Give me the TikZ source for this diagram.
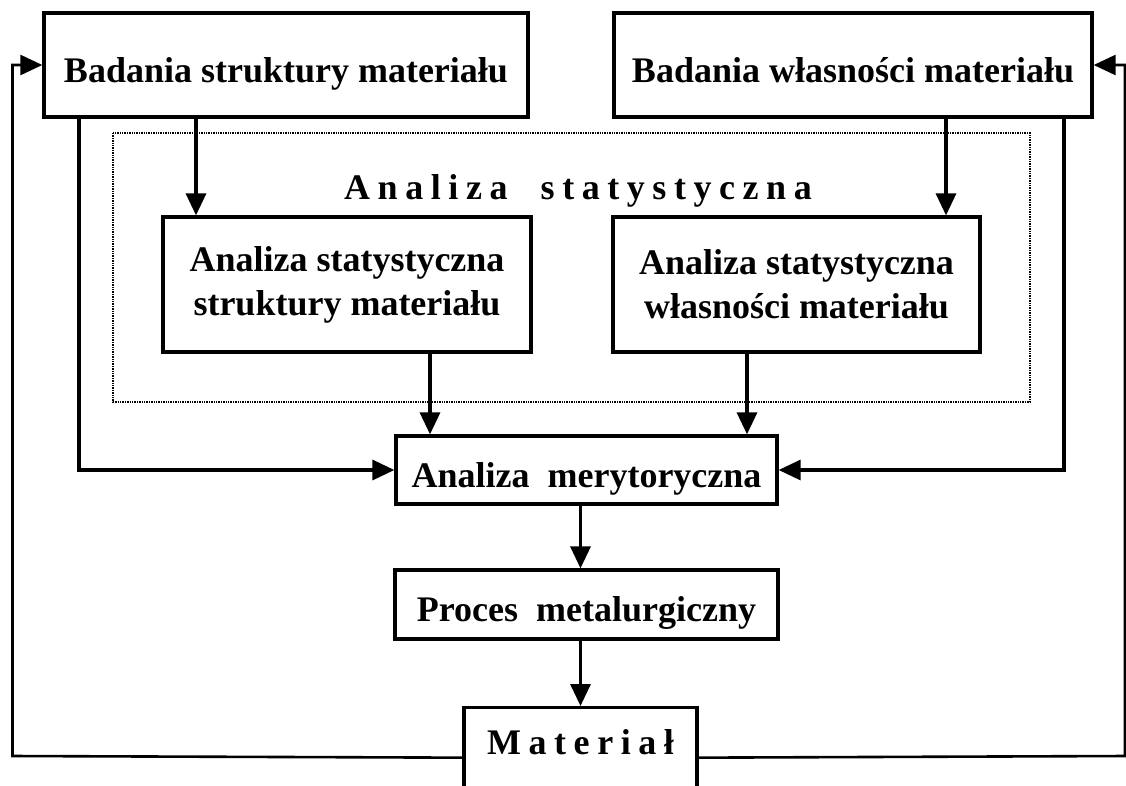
\documentclass[tikz,border=0pt]{standalone}
\usepackage{fontspec}
\setmainfont{Liberation Serif}
\newfontfamily\spacedfont[LetterSpace=21]{Liberation Serif}
\usetikzlibrary{calc, arrows.meta}
\tikzset{>={Triangle[length=22pt,width=20pt]}}
\tikzset{
  box/.style={draw, line width=3.3pt, inner sep=0pt, align=center,
    font=\fontsize{36}{44}\selectfont\bfseries},
  oneline/.style={text height=34pt, text depth=0pt},
  spaced/.style={font=\spacedfont\bfseries\fontsize{36}{44}\selectfont},
  link/.style={line width=3.3pt, ->},
  feedback/.style={line width=2.6pt, ->},
  frame/.style={densely dotted, line width=1.4pt}
}

\begin{document}
\begin{tikzpicture}[x=1pt, y=-1pt]
\useasboundingbox (0,0) rectangle (1126,785);
\clip (0,0) rectangle (1126,785);
\node[box, oneline, minimum width=484, minimum height=104] (bs) at (286,65) {Badania struktury materiału};
\node[box, oneline, minimum width=478, minimum height=104] (bw) at (853,65) {Badania własności materiału};
\draw[frame] (113,133) rectangle (1030,402);
\node[spaced, anchor=base] (title) at (578,199) {Analiza\ \ statystyczna};
\node[box, minimum width=368, minimum height=135] (ass) at (347,284.5) {Analiza statystyczna\\struktury materiału};
\node[box, minimum width=367, minimum height=135] (asw) at (796.5,284.5) {Analiza statystyczna\\własności materiału};
\node[box, oneline, minimum width=381, minimum height=68] (am) at (586.5,470) {Analiza\ \ merytoryczna};
\node[box, oneline, minimum width=383, minimum height=69] (pm) at (586.5,604.5) {Proces\ \ metalurgiczny};
\node[box, spaced, anchor=north, minimum width=233, text height=47, text depth=53] (mat) at (580.5,706) {Materiał};
\coordinate (a1) at (196,0);
\coordinate (a2) at (946,0);
\coordinate (a3) at (430,0);
\coordinate (a4) at (747,0);
\coordinate (sl) at (79,0);
\coordinate (sr) at (1064,0);
\coordinate (fl) at (12.5,756);
\coordinate (fr) at (1125,756);
\draw[link] (bs.south -| a1) -- (ass.north -| a1);
\draw[link] (bw.south -| a2) -- (asw.north -| a2);
\draw[link] (ass.south -| a3) -- (am.north -| a3);
\draw[link] (asw.south -| a4) -- (am.north -| a4);
\draw[link] (bs.south -| sl) |- (am.west);
\draw[link] (bw.south -| sr) |- (am.east);
\draw[link] (am.south -| mat.north) -- (pm.north -| mat.north);
\draw[link] (pm.south -| mat.north) -- (mat.north);
\draw[feedback] (mat.west) -- (fl) |- (bs.west);
\draw[feedback] (mat.east) -- (fr) |- (bw.east);
\end{tikzpicture}
\end{document}
